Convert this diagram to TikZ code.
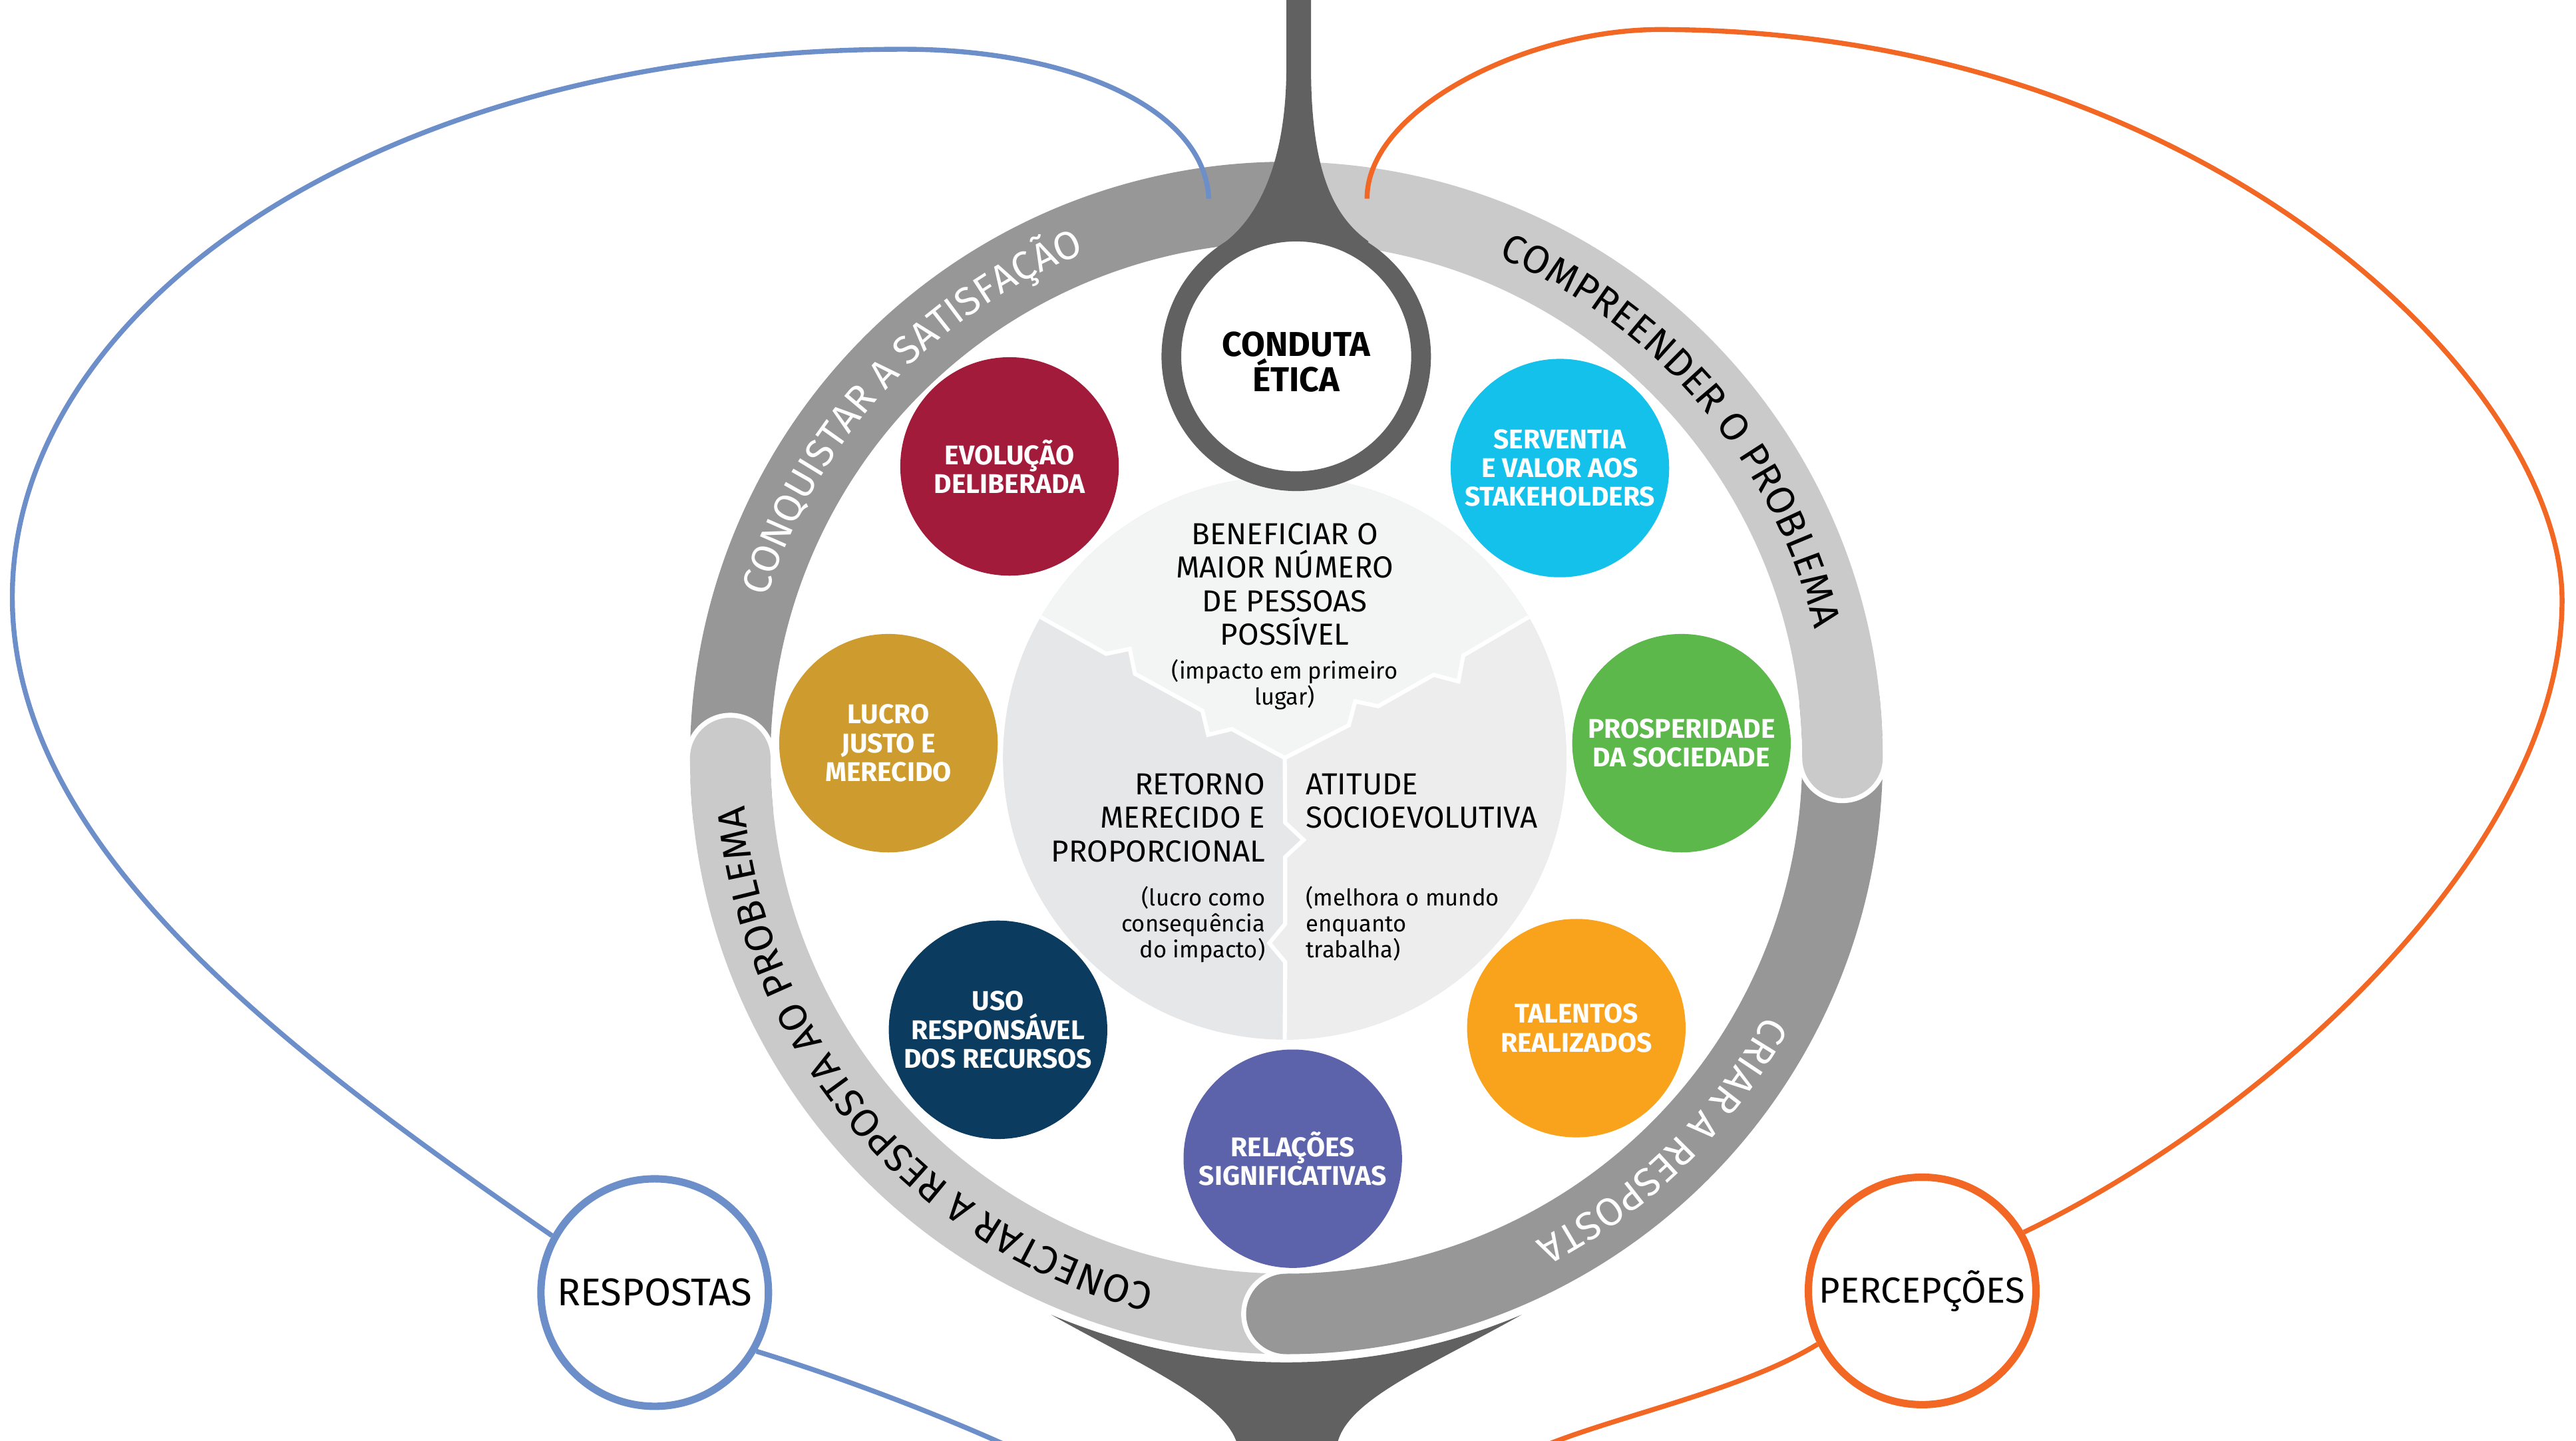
\documentclass[tikz,border=0pt]{standalone}
\usepackage{fontspec}
\setmainfont{Fira Sans}
\usetikzlibrary{decorations.text}

\definecolor{ringdark}{HTML}{979797}
\definecolor{ringlight}{HTML}{CACACA}
\definecolor{stemgray}{HTML}{616161}
\definecolor{pietop}{HTML}{F3F4F4}
\definecolor{pieleft}{HTML}{E6E7E8}
\definecolor{pieright}{HTML}{EDEDEE}
\definecolor{respblue}{HTML}{6C8EC9}
\definecolor{percorange}{HTML}{F26724}
\definecolor{evolred}{HTML}{A31B3B}
\definecolor{servcyan}{HTML}{13C1EB}
\definecolor{lucrogold}{HTML}{CD9B2E}
\definecolor{prospgreen}{HTML}{5CB84A}
\definecolor{usonavy}{HTML}{0B3C5F}
\definecolor{talorange}{HTML}{F9A31C}
\definecolor{relpurple}{HTML}{5C63AB}

\newcommand{\ringfont}{\fontsize{24}{24}\selectfont}
\newcommand{\headfont}{\fontsize{18.5}{20.3}\selectfont}
\newcommand{\notefont}{\fontsize{14}{15.8}\selectfont}
\newcommand{\valuefont}{\bfseries\fontsize{16.5}{17.5}\selectfont}

\tikzset{
  band/.style={line width=49},
  value/.style={circle,minimum size=133,inner sep=0,text=white,align=center,font=\valuefont},
  hub/.style={circle,minimum size=138.5,inner sep=0,line width=4.5,fill=white},
  link/.style={line width=3},
  txt/.style={inner sep=0},
  cut/.style={white,line width=2.5}
}

\begin{document}
\begin{tikzpicture}[x=1pt,y=1pt]
\useasboundingbox (0,0) rectangle (1568,877);
\coordinate (ringc) at (783,415.5);

% ring
\draw[band,ringdark] ([shift={(90:338.5)}]ringc) arc[start angle=90,end angle=186,radius=338.5];
\fill[white] ([shift={(180:338.5)}]ringc) circle[radius=27.5];
\draw[band,ringlight] ([shift={(180:338.5)}]ringc) arc[start angle=180,end angle=276,radius=338.5];
\fill[ringlight] ([shift={(180:338.5)}]ringc) circle[radius=24.5];
\fill[white] ([shift={(270:338.5)}]ringc) circle[radius=27.5];
\draw[band,ringdark] ([shift={(270:338.5)}]ringc) arc[start angle=270,end angle=366,radius=338.5];
\fill[ringdark] ([shift={(270:338.5)}]ringc) circle[radius=24.5];
\fill[white] ([shift={(0:338.5)}]ringc) circle[radius=27.5];
\draw[band,ringlight] ([shift={(0:338.5)}]ringc) arc[start angle=0,end angle=90,radius=338.5];
\fill[ringlight] ([shift={(0:338.5)}]ringc) circle[radius=24.5];

% ring labels
\path[decorate,decoration={text along path,text align=center,text={|\ringfont\color{white}|CONQUISTAR A SATISFAÇÃO}}] ([shift={(177.3:331)}]ringc) arc[start angle=177.3,end angle=97.3,radius=331];
\path[decorate,decoration={text along path,text align=center,text={|\ringfont\color{black}|COMPREENDER O PROBLEMA}}] ([shift={(80.4:331)}]ringc) arc[start angle=80.4,end angle=0.4,radius=331];
\path[decorate,decoration={text along path,text align=center,text={|\ringfont\color{white}|CRIAR A RESPOSTA}}] ([shift={(-5.5:331)}]ringc) arc[start angle=-5.5,end angle=-85.5,radius=331];
\path[decorate,decoration={text along path,text align=center,text={|\ringfont\color{black}|CONECTAR A RESPOSTA AO PROBLEMA}}] ([shift={(272:331)}]ringc) arc[start angle=272,end angle=169,radius=331];

% funnel
\fill[stemgray] (639.8,76.5) arc[start angle=247.1,end angle=292.9,radius=368] .. controls (870,45) and (820,25) .. (814,-2) -- (753,-2) .. controls (745,25) and (690,48) .. (639.8,76.5) -- cycle;

% pie
\fill[pieleft] (782,415.5) circle[radius=171.5];
\fill[pietop] (633.5,501.25) -- (673.3,478.9) -- (687.7,481.9) -- (690.8,466.8) -- (731.9,444.2) -- (735.4,429.6) -- (749.8,433.1) -- (782,415.5) -- (821,435.4) -- (824.9,450) -- (838.9,447) -- (872.6,466.1) -- (887.7,462.1) -- (890.7,477.9) -- (930.5,501.25) arc[start angle=30,end angle=150,radius=171.5] -- cycle;
\fill[pieright] (782,415.5) -- (782.3,376.1) -- (793.5,365.6) -- (782.3,355.2) -- (782.3,314.5) -- (772.6,302.8) -- (782.3,291.2) -- (782,244) arc[start angle=270,end angle=390,radius=171.5] -- (890.7,477.9) -- (887.7,462.1) -- (872.6,466.1) -- (838.9,447) -- (824.9,450) -- (821,435.4) -- cycle;
\draw[cut] (633.5,501.25) -- (673.3,478.9) -- (687.7,481.9) -- (690.8,466.8) -- (731.9,444.2) -- (735.4,429.6) -- (749.8,433.1) -- (782,415.5) -- (821,435.4) -- (824.9,450) -- (838.9,447) -- (872.6,466.1) -- (887.7,462.1) -- (890.7,477.9) -- (930.5,501.25);
\draw[cut] (782,415.5) -- (782.3,376.1) -- (793.5,365.6) -- (782.3,355.2) -- (782.3,314.5) -- (772.6,302.8) -- (782.3,291.2) -- (782,244);

\node[txt,anchor=north,align=center,font=\headfont] (benef) at (782,558.5) {BENEFICIAR O\\MAIOR NÚMERO\\DE PESSOAS\\POSSÍVEL};
\node[txt,anchor=north,align=center,font=\notefont] (impacto) at (782,475.5) {(impacto em primeiro\\lugar)};
\node[txt,anchor=north east,align=right,font=\headfont] (retorno) at (770.3,406.2) {RETORNO\\MERECIDO E\\PROPORCIONAL};
\node[txt,anchor=north east,align=right,font=\notefont] (lucronote) at (770.3,337.4) {(lucro como\\consequência\\do impacto)};
\node[txt,anchor=north west,align=left,font=\headfont] (atitude) at (794.7,406.2) {ATITUDE\\SOCIOEVOLUTIVA};
\node[txt,anchor=north west,align=left,font=\notefont] (melhora) at (794.7,337.4) {(melhora o mundo\\enquanto\\trabalha)};

% values
\node[value,fill=evolred] (evol) at (614.5,593) {EVOLUÇÃO\\DELIBERADA};
\node[value,fill=servcyan] (serv) at (949.5,592) {SERVENTIA\\E VALOR AOS\\STAKEHOLDERS};
\node[value,fill=lucrogold] (lucro) at (540.8,424.5) {LUCRO\\JUSTO E\\MERECIDO};
\node[value,fill=prospgreen] (prosp) at (1023.5,424.5) {PROSPERIDADE\\DA SOCIEDADE};
\node[value,fill=usonavy] (uso) at (607.5,250) {USO\\RESPONSÁVEL\\DOS RECURSOS};
\node[value,fill=talorange] (talentos) at (959.5,251) {TALENTOS\\REALIZADOS};
\node[value,fill=relpurple] (relacoes) at (786.9,171.5) {RELAÇÕES\\SIGNIFICATIVAS};

% stem and conduta
\fill[stemgray] (783,880) -- (783,836) .. controls (783,777) and (765,742) .. (742,727) -- (789,660) -- (833,730) .. controls (812,745) and (798,772) .. (798,836) -- (798,880) -- cycle;
\node[circle,draw=stemgray,line width=12,fill=white,minimum size=152,inner sep=0,align=center,font=\bfseries\fontsize{21}{20}\selectfont] (conduta) at (789,660) {\raisebox{0pt}[22pt][0pt]{}CONDUTA\\ÉTICA};

% hubs and links
\node[hub,draw=respblue,font=\fontsize{23.5}{23.5}\selectfont] (resp) at (398.5,90) {RESPOSTAS};
\node[hub,draw=percorange,font=\fontsize{22}{22}\selectfont] (perc) at (1170,91) {PERCEPÇÕES};
\coordinate (satend) at (735.8,756);
\coordinate (probend) at (832.1,756);
\coordinate (respout) at (617,-5);
\coordinate (percout) at (936,-5);

\draw[link,respblue] (resp.151) .. controls (166,242) and (7.5,363.5) .. (7.5,513.5)
  .. controls (7.5,690) and (230,847) .. (550,847)
  .. controls (650,847) and (733,812) .. (satend);
\draw[link,respblue] (resp.-30) .. controls (520,36) and (580,12) .. (respout);
\draw[link,percorange] (perc.30) .. controls (1382,199) and (1559.5,361) .. (1559.5,511.4)
  .. controls (1559.5,645) and (1340,859) .. (1010,859)
  .. controls (930,859) and (832.1,811) .. (probend);
\draw[link,percorange] (perc.207) .. controls (1060,30) and (980,14) .. (percout);
\end{tikzpicture}
\end{document}
